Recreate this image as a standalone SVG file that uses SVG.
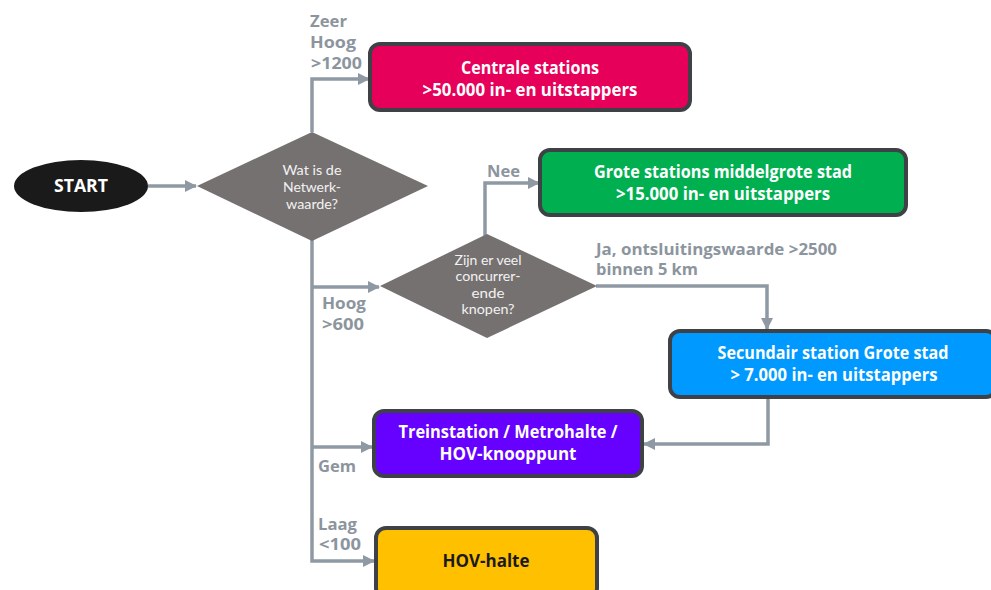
<svg xmlns="http://www.w3.org/2000/svg" width="991" height="590" viewBox="0 0 991 590">
<style>
.box{stroke:#3e4246;stroke-width:4}
.bt{font-family:"Open Sans","Liberation Sans",sans-serif;font-weight:700;font-size:17.5px;fill:#ffffff;text-anchor:middle}
.dt{font-family:Lato,"Liberation Sans",sans-serif;font-size:14px;fill:#f2f2f2;text-anchor:middle}
.lb{font-family:"Open Sans","Liberation Sans",sans-serif;font-weight:700;font-size:16px;fill:#8c959e}
.con{fill:none;stroke:#8f99a4;stroke-width:3.5;marker-end:url(#ah)}
</style>
<defs>
<marker id="ah" markerUnits="userSpaceOnUse" markerWidth="12" markerHeight="12" viewBox="0 0 12 12" refX="11" refY="6" orient="auto">
<path d="M0,0 L12,6 L0,12 Z" fill="#8f99a4"/>
</marker>
</defs>
<rect width="991" height="590" fill="#ffffff"/>
<g id="connectors">
<path class="con" d="M148,186 H196"/>
<path class="con" d="M312,132 V79 H369"/>
<path class="con" d="M312,240 V561 H374"/>
<path class="con" d="M312,287 H379"/>
<path class="con" d="M312,447 H372"/>
<path class="con" d="M485,236 V183 H539"/>
<path class="con" d="M596,286 H767 V329"/>
<path class="con" d="M768,398 V444 H644"/>
</g>
<g id="labels">
<text class="lb" x="310" y="27" textLength="37" lengthAdjust="spacingAndGlyphs">Zeer</text>
<text class="lb" x="310" y="48" textLength="46" lengthAdjust="spacingAndGlyphs">Hoog</text>
<text class="lb" x="311" y="69" textLength="51" lengthAdjust="spacingAndGlyphs">&gt;1200</text>
<text class="lb" x="487" y="177" textLength="33" lengthAdjust="spacingAndGlyphs">Nee</text>
<text class="lb" x="596" y="255" textLength="241" lengthAdjust="spacingAndGlyphs">Ja, ontsluitingswaarde &gt;2500</text>
<text class="lb" x="596" y="275" textLength="102" lengthAdjust="spacingAndGlyphs">binnen 5 km</text>
<text class="lb" x="322" y="309" textLength="44" lengthAdjust="spacingAndGlyphs">Hoog</text>
<text class="lb" x="322" y="330" textLength="42" lengthAdjust="spacingAndGlyphs">&gt;600</text>
<text class="lb" x="318" y="472" textLength="38" lengthAdjust="spacingAndGlyphs">Gem</text>
<text class="lb" x="318" y="530" textLength="39" lengthAdjust="spacingAndGlyphs">Laag</text>
<text class="lb" x="319" y="550" textLength="42" lengthAdjust="spacingAndGlyphs">&lt;100</text>
</g>
<g id="start">
<ellipse cx="81" cy="186" rx="67" ry="26" fill="#1a1a1a"/>
<text class="bt" x="81" y="192" textLength="54" lengthAdjust="spacingAndGlyphs">START</text>
</g>
<g id="netwerkwaarde">
<polygon points="312,132 428,186 312,241 197,186" fill="#767171"/>
<text class="dt" x="312" y="175" textLength="59" lengthAdjust="spacingAndGlyphs">Wat is de</text>
<text class="dt" x="312" y="192" textLength="58" lengthAdjust="spacingAndGlyphs">Netwerk-</text>
<text class="dt" x="312" y="209" textLength="52" lengthAdjust="spacingAndGlyphs">waarde?</text>
</g>
<g id="concurrerende">
<polygon points="487,234 597,286 487,338 380,286" fill="#767171"/>
<text class="dt" x="488" y="265" textLength="67" lengthAdjust="spacingAndGlyphs">Zijn er veel</text>
<text class="dt" x="488" y="281" textLength="65" lengthAdjust="spacingAndGlyphs">concurrer-</text>
<text class="dt" x="488" y="298" textLength="33" lengthAdjust="spacingAndGlyphs">ende</text>
<text class="dt" x="488" y="314" textLength="53" lengthAdjust="spacingAndGlyphs">knopen?</text>
</g>
<g id="centrale">
<rect class="box" x="370" y="44" width="320" height="66" rx="10" fill="#e6005a"/>
<text class="bt" x="530" y="74" textLength="138" lengthAdjust="spacingAndGlyphs">Centrale stations</text>
<text class="bt" x="530" y="96" textLength="215" lengthAdjust="spacingAndGlyphs">&gt;50.000 in- en uitstappers</text>
</g>
<g id="grote">
<rect class="box" x="540" y="150" width="366" height="65" rx="10" fill="#00b050"/>
<text class="bt" x="723" y="178" textLength="258" lengthAdjust="spacingAndGlyphs">Grote stations middelgrote stad</text>
<text class="bt" x="723" y="200" textLength="214" lengthAdjust="spacingAndGlyphs">&gt;15.000 in- en uitstappers</text>
</g>
<g id="secundair">
<rect class="box" x="670" y="331" width="326" height="66" rx="10" fill="#0099ff"/>
<text class="bt" x="833" y="359" textLength="231" lengthAdjust="spacingAndGlyphs">Secundair station Grote stad</text>
<text class="bt" x="834" y="381" textLength="207" lengthAdjust="spacingAndGlyphs">&gt; 7.000 in- en uitstappers</text>
</g>
<g id="treinstation">
<rect class="box" x="374" y="411" width="268" height="65" rx="10" fill="#6600ff"/>
<text class="bt" x="508" y="438" textLength="219" lengthAdjust="spacingAndGlyphs">Treinstation / Metrohalte /</text>
<text class="bt" x="508" y="460" textLength="137" lengthAdjust="spacingAndGlyphs">HOV-knooppunt</text>
</g>
<g id="hovhalte">
<rect class="box" x="376" y="528" width="221" height="70" rx="10" fill="#ffc000"/>
<text class="bt" x="486" y="567" textLength="87" lengthAdjust="spacingAndGlyphs" style="fill:#1a1a1a">HOV-halte</text>
</g>
</svg>
